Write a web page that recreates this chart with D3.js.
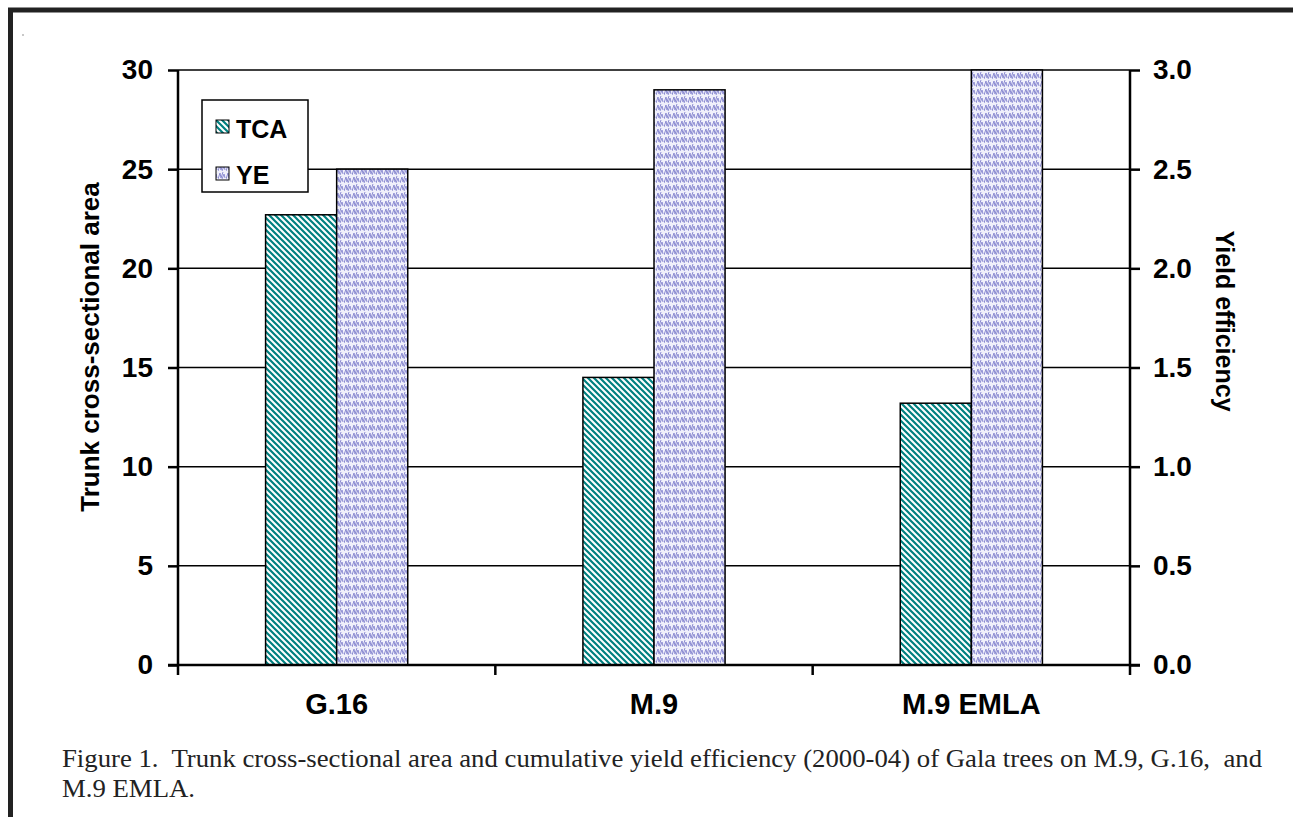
<!DOCTYPE html>
<html>
<head>
<meta charset="utf-8">
<script src="https://cdn.jsdelivr.net/npm/d3@7"></script>
<style>
  body { margin: 0; background: #fff; }
  svg { display: block; }
</style>
</head>
<body>
<div id="chart"></div>
<script>
// values
var categories = ["G.16", "M.9", "M.9 EMLA"];
var tcaValues = [22.7, 14.5, 13.2];
var yeValues = [2.5, 2.9, 3.0];
var leftTicks = [0, 5, 10, 15, 20, 25, 30];
var rightTicks = [0, 0.5, 1.0, 1.5, 2.0, 2.5, 3.0];
var seriesNames = ["TCA", "YE"];

var width = 1293,
  height = 817;

var svg = d3.select('#chart').append('svg')
  .attr('width', width)
  .attr('height', height);

var defs = svg.append("defs");

// teal diagonal hatch
var hatch = defs.append("pattern")
  .attr("id", "tcaPat")
  .attr("patternUnits", "userSpaceOnUse")
  .attr("width", 6)
  .attr("height", 6);
hatch.append("rect").attr("width", 6).attr("height", 6).style("fill", "#fff");
hatch.append("path")
  .attr("d", "M-1,-1 L7,7 M-4,2 L2,8 M2,-4 L8,2")
  .style("stroke", "#008080")
  .style("stroke-width", 2.2);

// lavender weave
var weave = defs.append("pattern")
  .attr("id", "yePat")
  .attr("patternUnits", "userSpaceOnUse")
  .attr("width", 8)
  .attr("height", 8);
weave.append("rect").attr("width", 8).attr("height", 8).style("fill", "#f0f0fb");
weave.append("path")
  .attr("d", "M0,7 L2,1 L3,6 L5,0 M4,7 L6,2 L7,6")
  .style("stroke", "#8c8cd2")
  .style("fill", "none")
  .style("stroke-width", 1);

// page frame
svg.append("line")
  .attr("x1", 8).attr("y1", 10).attr("x2", width).attr("y2", 10)
  .style("stroke", "#222").style("stroke-width", 5);
svg.append("line")
  .attr("x1", 10.5).attr("y1", 8).attr("x2", 10.5).attr("y2", height)
  .style("stroke", "#222").style("stroke-width", 5);
svg.append("circle").attr("cx", 23).attr("cy", 35).attr("r", 0.7).style("fill", "#666");

var plotLeft = 178, plotRight = 1130, plotTop = 70, plotBottom = 665;

var x = d3.scaleBand().domain(categories).range([plotLeft, plotRight]);
var yL = d3.scaleLinear().domain([0, 30]).range([plotBottom, plotTop]);
var yR = d3.scaleLinear().domain([0, 3]).range([plotBottom, plotTop]);

// gridlines
svg.append("g").selectAll("line")
  .data(leftTicks.filter(function(d) { return d > 0; }))
  .enter().append("line")
  .attr("x1", plotLeft).attr("x2", plotRight)
  .attr("y1", function(d) { return yL(d); })
  .attr("y2", function(d) { return yL(d); })
  .style("stroke", "#000").style("stroke-width", 1.5);

var barW = x.bandwidth() * 0.224;

svg.append("g").selectAll("rect")
  .data(categories)
  .enter().append("rect")
  .attr("x", function(d) { return x(d) + x.bandwidth() / 2 - barW; })
  .attr("y", function(d, i) { return yL(tcaValues[i]); })
  .attr("width", barW)
  .attr("height", function(d, i) { return plotBottom - yL(tcaValues[i]); })
  .style("fill", "url(#tcaPat)")
  .style("stroke", "#000").style("stroke-width", 1.5);

svg.append("g").selectAll("rect")
  .data(categories)
  .enter().append("rect")
  .attr("x", function(d) { return x(d) + x.bandwidth() / 2; })
  .attr("y", function(d, i) { return yR(yeValues[i]); })
  .attr("width", barW)
  .attr("height", function(d, i) { return plotBottom - yR(yeValues[i]); })
  .style("fill", "url(#yePat)")
  .style("stroke", "#000").style("stroke-width", 1.5);

var sans = "'Liberation Sans', Arial, sans-serif";

var leftAxis = svg.append("g")
  .attr("transform", "translate(" + plotLeft + ",0)")
  .call(d3.axisLeft(yL).tickValues(leftTicks).tickSize(10).tickPadding(15).tickFormat(d3.format("d")));
var rightAxis = svg.append("g")
  .attr("transform", "translate(" + plotRight + ",0)")
  .call(d3.axisRight(yR).tickValues(rightTicks).tickSize(10).tickPadding(13).tickFormat(d3.format(".1f")));
var bottomAxis = svg.append("g")
  .attr("transform", "translate(0," + plotBottom + ")")
  .call(d3.axisBottom(x).tickSize(0).tickPadding(28));

[leftAxis, rightAxis, bottomAxis].forEach(function(a) {
  a.select(".domain").style("stroke", "#000").style("stroke-width", 2.5);
  a.selectAll(".tick line").style("stroke", "#000").style("stroke-width", 2.5);
  a.selectAll("text")
    .style("font-family", sans)
    .style("font-weight", "bold")
    .style("font-size", "28px")
    .style("fill", "#000");
});
bottomAxis.selectAll("text").style("font-size", "29px");
leftAxis.select(".domain").attr("d", "M0," + (plotBottom + 10) + "V" + plotTop);
rightAxis.select(".domain").attr("d", "M0," + (plotBottom + 10) + "V" + plotTop);
bottomAxis.select(".domain").attr("d", "M" + (plotLeft - 10) + ",0H" + (plotRight + 10));

// category separators below the axis
svg.append("g").selectAll("line")
  .data(categories.slice(1))
  .enter().append("line")
  .attr("x1", function(d) { return x(d); })
  .attr("x2", function(d) { return x(d); })
  .attr("y1", plotBottom).attr("y2", plotBottom + 10)
  .style("stroke", "#000").style("stroke-width", 2.5);

// axis titles
svg.append("text")
  .text("Trunk cross-sectional area")
  .attr("transform", "translate(99,347) rotate(-90)")
  .attr("text-anchor", "middle")
  .style("font-family", sans).style("font-weight", "bold").style("font-size", "26px");

svg.append("text")
  .text("Yield efficiency")
  .attr("transform", "translate(1216,321) rotate(90)")
  .attr("text-anchor", "middle")
  .style("font-family", sans).style("font-weight", "bold").style("font-size", "25px");

// legend
var legend = svg.append("g").attr("transform", "translate(202,100)");
legend.append("rect")
  .attr("width", 106).attr("height", 92)
  .style("fill", "#fff").style("stroke", "#000").style("stroke-width", 1.5);
var fills = ["url(#tcaPat)", "url(#yePat)"];
seriesNames.forEach(function(name, i) {
  legend.append("rect")
    .attr("x", 14).attr("y", 20 + i * 47)
    .attr("width", 13).attr("height", 13)
    .style("fill", fills[i]).style("stroke", "#000").style("stroke-width", 1);
  legend.append("text")
    .text(name)
    .attr("x", 34).attr("y", 38 + i * 46)
    .style("font-family", sans).style("font-weight", "bold").style("font-size", "25px");
});

// caption
var caption = svg.append("g")
  .style("font-family", "'Liberation Serif', 'Times New Roman', serif")
  .style("font-size", "25px")
  .style("fill", "#222");
caption.append("text")
  .text("Figure 1.  Trunk cross-sectional area and cumulative yield efficiency (2000-04) of Gala trees on M.9, G.16,  and")
  .attr("x", 62).attr("y", 767)
  .attr("textLength", 1200).attr("lengthAdjust", "spacingAndGlyphs")
  .attr("xml:space", "preserve").style("white-space", "pre");
caption.append("text")
  .text("M.9 EMLA.")
  .attr("x", 62).attr("y", 797)
  .attr("textLength", 133).attr("lengthAdjust", "spacingAndGlyphs");
</script>
</body>
</html>
